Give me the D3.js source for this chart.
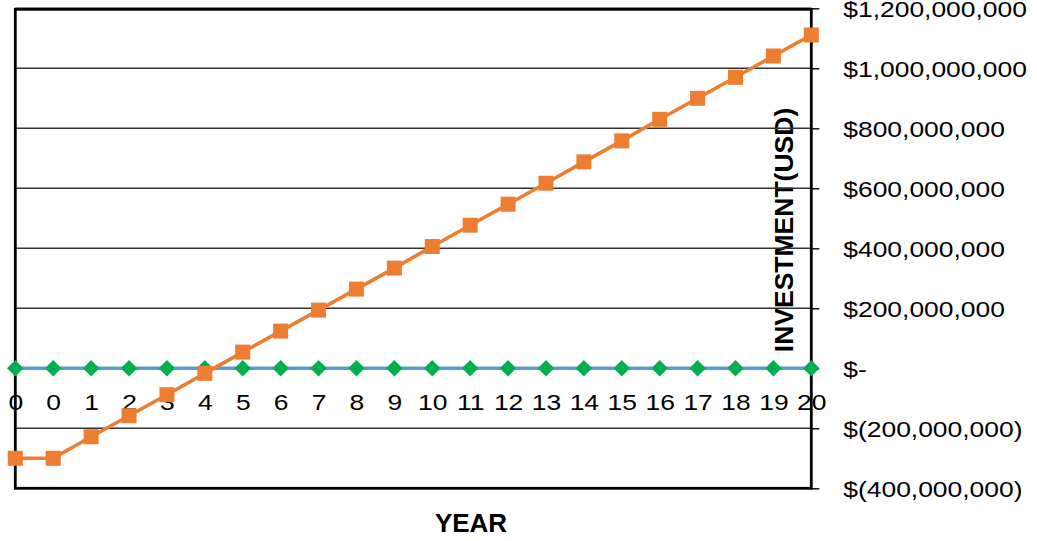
<!DOCTYPE html>
<html>
<head>
<meta charset="utf-8">
<script src="https://cdn.jsdelivr.net/npm/d3@7"></script>
<style>
  html, body { margin: 0; padding: 0; background: #fff; }
  svg { display: block; }
  text { font-family: "Liberation Sans", Arial, sans-serif; fill: #000; }
</style>
</head>
<body>
<svg id="chart" width="1037" height="541"></svg>
<script>
// Year labels along the horizontal axis (the first period is labelled 0 twice)
const years = ["0", "0", "1", "2", "3", "4", "5", "6", "7", "8", "9", "10",
               "11", "12", "13", "14", "15", "16", "17", "18", "19", "20"];

// Cumulative investment position (USD)
const cumulative = [-300e6, -300e6, -228e6, -158e6, -88e6, -17e6, 54e6, 124e6, 194e6,
                    264e6, 334e6, 406e6, 477e6, 547e6, 617e6, 688e6, 758e6, 830e6,
                    900e6, 970e6, 1041e6, 1111e6];

// Break-even reference series
const baseline = [0, 0, 0, 0, 0, 0, 0, 0, 0, 0, 0, 0, 0, 0, 0, 0, 0, 0, 0, 0, 0, 0];
const breakEven = [0, 0, 0, 0, 0, 0, 0, 0, 0, 0, 0, 0, 0, 0, 0, 0, 0, 0, 0, 0, 0, 0];

// Value axis ticks and their accounting-style labels
const yTicks = [1200e6, 1000e6, 800e6, 600e6, 400e6, 200e6, 0, -200e6, -400e6];
const yTickLabels = ["$1,200,000,000", "$1,000,000,000", "$800,000,000", "$600,000,000",
                     "$400,000,000", "$200,000,000", "$-", "$(200,000,000)", "$(400,000,000)"];

const svg = d3.select("#chart");

const plot = { left: 15.3, right: 811.3, top: 8.3, bottom: 488.3 };

const x = d3.scalePoint()
  .domain(d3.range(years.length))
  .range([plot.left, plot.right]);

const y = d3.scaleLinear()
  .domain([-400e6, 1200e6])
  .range([plot.bottom, plot.top]);

// Axis title inside the plot (drawn under the grid)
svg.append("text")
  .attr("transform", `translate(793,230) rotate(-90)`)
  .attr("text-anchor", "middle")
  .style("font-weight", "bold")
  .style("font-size", "26.5px")
  .text("INVESTMENT(USD)");

// Horizontal gridlines
svg.append("g")
  .selectAll("line")
  .data(yTicks)
  .join("line")
  .attr("x1", plot.left)
  .attr("x2", plot.right)
  .attr("y1", d => y(d))
  .attr("y2", d => y(d))
  .attr("stroke", "#333")
  .attr("stroke-width", 1.4);

// Value axis on the right: ticks and labels
const yAxis = d3.axisRight(y)
  .tickValues(yTicks)
  .tickSize(8)
  .tickFormat((d, i) => yTickLabels[i]);

const yAxisG = svg.append("g")
  .attr("transform", `translate(${plot.right},0)`)
  .call(yAxis);
yAxisG.select(".domain").remove();
yAxisG.selectAll(".tick line").attr("stroke", "#000").attr("stroke-width", 1.4);
yAxisG.selectAll(".tick text")
  .attr("x", 0)
  .attr("dy", null)
  .attr("y", 0)
  .attr("text-anchor", "start")
  .attr("transform", "translate(32,8.5) scale(1.19,1)")
  .style("font-size", "22.2px")
  .style("font-family", "'Liberation Sans', Arial, sans-serif");

// Category labels sit just below the zero line
const xAxis = d3.axisBottom(x)
  .tickSize(0)
  .tickFormat(i => years[i]);

const xAxisG = svg.append("g")
  .attr("transform", `translate(0,${y(0)})`)
  .call(xAxis);
xAxisG.select(".domain").remove();
xAxisG.selectAll(".tick text")
  .attr("y", 0)
  .attr("dy", null)
  .attr("text-anchor", "middle")
  .attr("transform", "translate(0,41.5) scale(1.19,1)")
  .style("font-size", "22.2px")
  .style("font-family", "'Liberation Sans', Arial, sans-serif");

// Plot frame
svg.append("rect")
  .attr("x", plot.left)
  .attr("y", plot.top + 1)
  .attr("width", plot.right - plot.left)
  .attr("height", plot.bottom - plot.top - 1)
  .attr("fill", "none")
  .attr("stroke", "#000")
  .attr("stroke-width", 2.8);

const line = d3.line()
  .x((d, i) => x(i))
  .y(d => y(d));

// Baseline series
svg.append("path")
  .datum(baseline)
  .attr("d", line)
  .attr("fill", "none")
  .attr("stroke", "#5B9BD5")
  .attr("stroke-width", 3.6);

// Break-even markers (diamonds)
svg.append("g")
  .selectAll("path")
  .data(breakEven)
  .join("path")
  .attr("transform", (d, i) => `translate(${x(i)},${y(d)}) rotate(45)`)
  .attr("d", "M-5.8,-5.8H5.8V5.8H-5.8Z")
  .attr("fill", "#00B050");

// Cumulative investment series
svg.append("path")
  .datum(cumulative)
  .attr("d", line)
  .attr("fill", "none")
  .attr("stroke", "#ED7D31")
  .attr("stroke-width", 3.6);

svg.append("g")
  .selectAll("rect")
  .data(cumulative)
  .join("rect")
  .attr("x", (d, i) => x(i) - 7.5)
  .attr("y", d => y(d) - 7.5)
  .attr("width", 15)
  .attr("height", 15)
  .attr("fill", "#ED7D31");

// Category axis title
svg.append("text")
  .attr("x", 471)
  .attr("y", 532)
  .attr("text-anchor", "middle")
  .style("font-weight", "bold")
  .style("font-size", "26px")
  .text("YEAR");
</script>
</body>
</html>
